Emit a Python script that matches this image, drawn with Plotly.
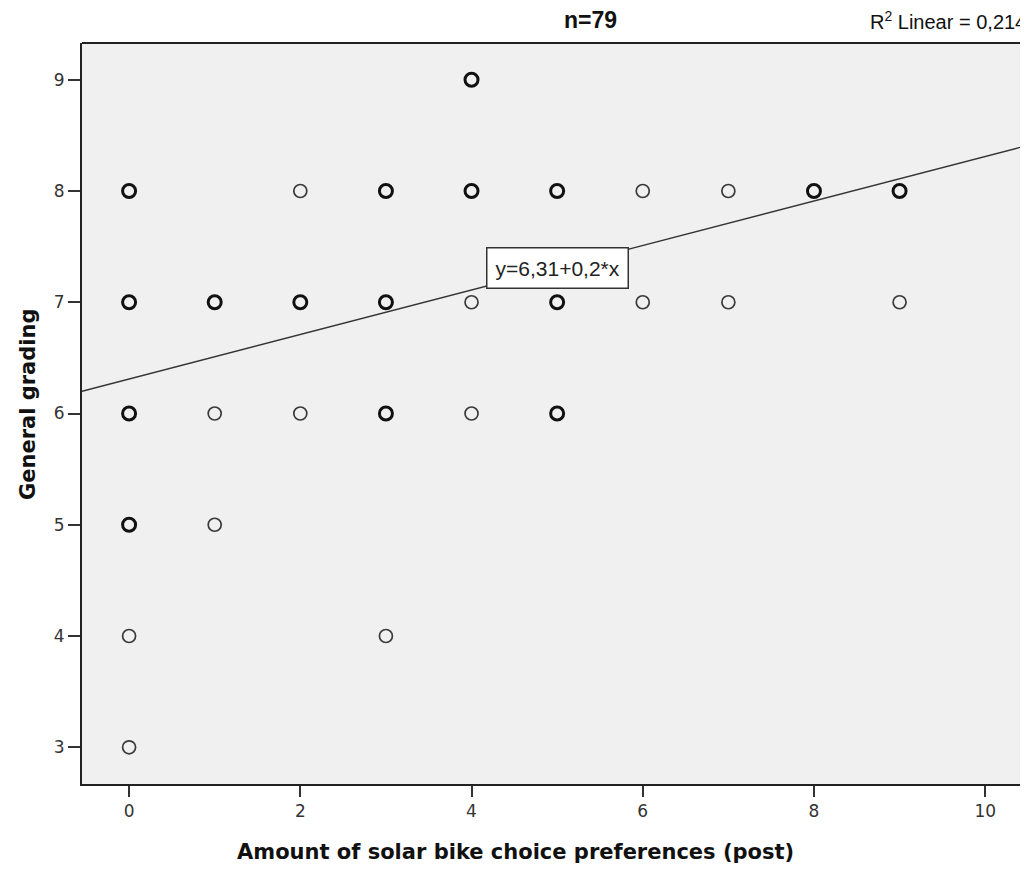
import plotly.graph_objects as go

# data: unique (x, y) positions and number of overlapping observations
x_vals = [0, 0, 0, 0, 0, 0,
          1, 1, 1,
          2, 2, 2,
          3, 3, 3, 3,
          4, 4, 4, 4,
          5, 5, 5,
          6, 6,
          7, 7,
          8,
          9, 9]
y_vals = [8, 7, 6, 5, 4, 3,
          7, 6, 5,
          8, 7, 6,
          8, 7, 6, 4,
          9, 8, 7, 6,
          8, 7, 6,
          8, 7,
          8, 7,
          8,
          8, 7]
counts = [6, 10, 8, 4, 1, 1,
          4, 1, 1,
          1, 4, 1,
          3, 5, 3, 1,
          2, 3, 1, 1,
          3, 3, 2,
          1, 1,
          1, 1,
          2,
          3, 1]
intercept = 6.31
slope = 0.2
r2 = "0,214"
n_label = "n=79"
equation = "y=6,31+0,2*x"
x_title = "Amount of solar bike choice preferences (post)"
y_title = "General grading"
x_ticks = [0, 2, 4, 6, 8, 10]
y_ticks = [3, 4, 5, 6, 7, 8, 9]
x_range = [-0.55, 10.5]
y_range = [2.67, 9.33]

fig = go.Figure()

line_x = [x_range[0], x_range[1]]
line_y = [intercept + slope * v for v in line_x]
fig.add_trace(go.Scatter(x=line_x, y=line_y, mode="lines",
                         line=dict(color="#333333", width=1.3),
                         hoverinfo="skip", showlegend=False))

single_x = [x for x, c in zip(x_vals, counts) if c == 1]
single_y = [y for y, c in zip(y_vals, counts) if c == 1]
multi_x = [x for x, c in zip(x_vals, counts) if c > 1]
multi_y = [y for y, c in zip(y_vals, counts) if c > 1]

fig.add_trace(go.Scatter(x=single_x, y=single_y, mode="markers",
                         marker=dict(symbol="circle-open", size=13,
                                     color="#3a3a3a", line=dict(width=1.7, color="#3a3a3a")),
                         showlegend=False))
fig.add_trace(go.Scatter(x=multi_x, y=multi_y, mode="markers",
                         marker=dict(symbol="circle-open", size=13,
                                     color="#111111", line=dict(width=3.0, color="#111111")),
                         showlegend=False))

fig.add_annotation(x=5.0, y=7.31, xref="x", yref="y",
                   text=equation, showarrow=False,
                   font=dict(family="Liberation Sans, Arial", size=21, color="#222222"),
                   bgcolor="white", bordercolor="#333333", borderwidth=1.5, borderpad=8)

fig.update_layout(
    width=1020, height=865,
    margin=dict(l=74, r=0, t=35, b=89),
    paper_bgcolor="white", plot_bgcolor="#f0f0f0",
    font=dict(family="DejaVu Sans", color="#222222"),
    xaxis=dict(range=x_range, tickvals=x_ticks, showgrid=False, zeroline=False,
               showline=True, linecolor="#222222", linewidth=1.8, automargin=False,
               ticks="outside", ticklen=11, tickwidth=1.5, tickcolor="#333333",
               tickfont=dict(family="DejaVu Sans", size=17, color="#333333")),
    yaxis=dict(range=y_range, tickvals=y_ticks, showgrid=False, zeroline=False,
               showline=True, linecolor="#222222", linewidth=1.8, automargin=False,
               ticks="outside", ticklen=12, tickwidth=1.5, tickcolor="#333333",
               tickfont=dict(family="DejaVu Sans", size=17, color="#333333")),
)

fig.add_annotation(x=0.458, y=-0.0918, xref="paper", yref="paper", yanchor="middle",
                   text="<b>" + x_title + "</b>", showarrow=False,
                   font=dict(family="DejaVu Sans", size=21, color="#111111"))
fig.add_annotation(x=-0.0571, y=0.5128, xref="paper", yref="paper", xanchor="center",
                   yanchor="middle", textangle=-90,
                   text="<b>" + y_title + "</b>", showarrow=False,
                   font=dict(family="DejaVu Sans", size=21, color="#111111"))
fig.add_annotation(x=0.537, y=1.031, xref="paper", yref="paper", yanchor="middle",
                   text="<b>" + n_label + "</b>", showarrow=False,
                   font=dict(family="Liberation Sans, Arial", size=23, color="#111111"))
fig.add_annotation(x=1.0, y=1.031, xref="paper", yref="paper", xanchor="right", yanchor="middle",
                   text="R<sup>2</sup> Linear = " + r2, showarrow=False,
                   font=dict(family="Liberation Sans, Arial", size=20, color="#111111"))
fig.add_shape(type="line", xref="paper", yref="paper", x0=0, x1=1, y0=1, y1=1,
              line=dict(color="#222222", width=1.8))

fig.write_html("out.html")
